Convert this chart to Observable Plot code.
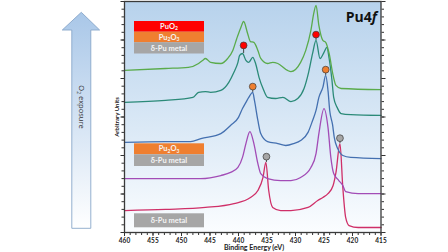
<!DOCTYPE html>
<html><head><meta charset="utf-8">
<script src="https://cdn.jsdelivr.net/npm/d3@7"></script>
<script src="https://cdn.jsdelivr.net/npm/@observablehq/plot@0.6"></script>
<style>html,body{margin:0;padding:0;background:#fff;} svg{display:block}</style>
</head><body><div id="chart"></div>
<script>
// ---- data (binding energy in eV, intensity in arbitrary units incl. stacking offset) ----
const metalE = [460,452.8,445.8,440.8,437.9,436.6,435.7,435.2,434.7,434.0,432.6,430.8,427.8,426.1,425.2,424.3,423.4,422.9,422.2,421.7,421.2,420.6,419.0,415];
const metalI = [0.57,0.60,0.65,0.75,0.91,1.09,1.43,1.82,1.09,0.65,0.57,0.57,0.65,0.83,0.91,1.01,1.22,1.56,2.31,1.17,0.39,0.18,0.13,0.13];

const mixE = [460,452.8,446.6,443.1,441.4,440.1,439.3,438.7,438.0,437.3,436.6,436.1,434.9,432.6,430.8,429.1,427.3,426.4,425.9,425.0,424.3,423.8,423.3,422.4,421.7,421.2,419.0,415];
const mixI = [1.40,1.40,1.40,1.48,1.56,1.69,1.95,2.31,2.62,2.31,1.79,1.53,1.40,1.35,1.35,1.43,1.69,2.05,2.57,3.22,2.73,1.95,1.53,1.35,1.22,1.06,1.01,1.01];

const sesqE = [460,452.8,448.4,446.6,443.1,441.4,440.0,439.3,438.7,438.2,437.5,437.2,436.6,436.1,434.9,433.1,431.7,430.3,429.1,427.8,427.0,426.4,425.9,425.2,424.7,424.3,424.0,423.5,423.2,422.6,421.7,420.3,415];
const sesqI = [2.34,2.36,2.36,2.44,2.57,2.78,2.99,3.22,3.38,3.51,3.64,3.43,2.91,2.57,2.36,2.31,2.26,2.31,2.39,2.60,2.91,3.17,3.51,3.77,4.08,3.69,3.17,2.80,2.47,2.18,2.00,1.95,1.92];

const oxE = [460,452.8,448.0,447.0,445.8,444.9,443.1,441.7,440.8,440.1,439.8,439.3,438.7,438.2,437.5,437.0,436.4,435.7,434.9,433.5,432.2,430.8,429.6,428.5,427.7,427.0,426.4,425.7,425.0,424.5,424.1,423.6,423.3,422.7,422.0,420.3,415];
const oxI = [3.38,3.43,3.51,3.64,3.66,3.64,3.69,3.90,4.16,4.42,4.60,4.65,4.47,4.42,4.55,4.39,4.03,3.74,3.51,3.48,3.51,3.40,3.48,3.74,4.16,4.65,4.99,4.52,4.68,4.81,4.52,3.95,3.51,3.25,3.09,3.06,3.04];

const topE = [460,452.8,448.8,447.0,446.3,445.8,444.9,443.1,441.9,441.0,440.3,439.6,439.1,438.4,437.9,437.3,436.6,436.1,434.9,434.0,433.1,431.4,430.8,429.1,428.2,427.3,426.8,426.4,425.9,425.2,424.7,424.1,423.4,422.9,422.0,415];
const topI = [4.21,4.26,4.29,4.39,4.47,4.52,4.42,4.39,4.52,4.73,5.04,5.32,5.48,5.17,4.96,4.94,4.73,4.52,4.39,4.42,4.39,4.21,4.18,4.42,4.73,5.25,5.69,5.90,5.38,4.99,4.94,4.65,4.08,3.82,3.74,3.71];

const seriesNames = ["spectrum 1 (clean metal)", "spectrum 2", "spectrum 3", "spectrum 4", "spectrum 5"];
const seriesE = [metalE, mixE, sesqE, oxE, topE];
const seriesI = [metalI, mixI, sesqI, oxI, topI];

// peak markers
const markerE = [435.1, 422.2, 437.5, 424.7, 439.1, 426.4];
const markerI = [1.97, 2.45, 3.79, 4.23, 4.86, 5.14];
const peakI   = [1.82, 2.31, 3.64, 4.08, 4.65, 4.99];
const markerPhase = ["δ-Pu metal", "δ-Pu metal", "Pu₂O₃", "Pu₂O₃", "PuO₂", "PuO₂"];

const xMajor = [460,455,450,445,440,435,430,425,420,415];
const xMinor = d3.range(460, 414, -1);
const yMajor = [0,1,2,3,4,5,6];
const yMinor = d3.range(0, 6.01, 0.2);

// ---- build tables ----
const rows = [];
seriesNames.forEach((name, k) => seriesE[k].forEach((e, i) => rows.push({series: name, E: e, I: seriesI[k][i]})));
const markers = markerE.map((e, i) => ({E: e, I: markerI[i], P: peakI[i], phase: markerPhase[i]}));

const colorDomain = [...seriesNames, "PuO₂", "Pu₂O₃", "δ-Pu metal"];
const colorRange = ["#cf2f68", "#a24cb6", "#4470b0", "#2b8a78", "#5aab4b", "#ff0000", "#ef7f30", "#a6a6a6"];

const svg = Plot.plot({
  width: 448, height: 252,
  marginLeft: 124, marginRight: 67.5, marginTop: 1, marginBottom: 20,
  style: {fontFamily: "Lato, 'Liberation Sans', sans-serif", fontSize: "6.5px", color: "#222", background: "transparent"},
  x: {domain: [460, 415], label: null},
  y: {domain: [0, 6], label: null},
  color: {domain: colorDomain, range: colorRange},
  marks: [
    Plot.frame({fill: "url(#bgGrad)", stroke: null}),
    Plot.axisX({ticks: xMinor, tickSize: 3, tickFormat: () => "", label: null, stroke: "#333"}),
    Plot.axisX({ticks: xMajor, tickSize: 4, tickFormat: "d", tickPadding: 1.5, label: null, fontWeight: "bold", stroke: "#333"}),
    Plot.axisY({anchor: "left", ticks: yMinor, tickSize: 2.5, tickFormat: () => "", label: null, stroke: "#333"}),
    Plot.axisY({anchor: "left", ticks: yMajor, tickSize: 3.5, tickFormat: () => "", label: null, stroke: "#333"}),
    Plot.axisY({anchor: "right", ticks: yMinor, tickSize: 2.5, tickFormat: () => "", label: null, stroke: "#333"}),
    Plot.axisY({anchor: "right", ticks: yMajor, tickSize: 4, tickFormat: () => "", label: null, stroke: "#333"}),
    Plot.line(rows, {x: "E", y: "I", z: "series", stroke: "series", strokeWidth: 1.3, curve: "monotone-x"}),
    Plot.ruleX(markers, {x: "E", y1: "P", y2: "I", stroke: "#444", strokeWidth: 1}),
    Plot.dot(markers, {x: "E", y: "I", r: 3.4, fill: "phase", stroke: "#3a3a3a", strokeWidth: 0.7}),
    Plot.frame({stroke: "#3a3a3a", strokeWidth: 1.3})
  ]
});

document.getElementById("chart").appendChild(svg);
const s = d3.select(svg);
const defs = s.insert("defs", ":first-child");
const g1 = defs.append("linearGradient").attr("id", "bgGrad").attr("x1", 0).attr("y1", 0).attr("x2", 0).attr("y2", 1);
g1.append("stop").attr("offset", "0%").attr("stop-color", "#b7d2ec");
g1.append("stop").attr("offset", "55%").attr("stop-color", "#dbe9f6");
g1.append("stop").attr("offset", "100%").attr("stop-color", "#fbfdff");
const g2 = defs.append("linearGradient").attr("id", "arrowGrad").attr("x1", 0).attr("y1", 0).attr("x2", 0).attr("y2", 1);
g2.append("stop").attr("offset", "0%").attr("stop-color", "#a9c7e8");
g2.append("stop").attr("offset", "100%").attr("stop-color", "#ffffff");

// arrow annotation
const ann = s.append("g");
ann.append("path")
  .attr("d", "M71.8,228.3 L71.8,30 L62.3,30 L81.3,12.3 L99.6,30 L90.8,30 L90.8,228.3 Z")
  .attr("fill", "url(#arrowGrad)").attr("stroke", "#89a7c9").attr("stroke-width", 0.9);
const at = ann.append("text").attr("transform", "translate(81.3,107) rotate(90)")
  .attr("text-anchor", "middle").attr("dy", "0.35em")
  .attr("font-family", "'Open Sans', sans-serif").attr("font-size", 7.5).attr("fill", "#333");
at.append("tspan").text("O");
at.append("tspan").attr("font-size", 5).attr("dy", "0.35em").text("2");
at.append("tspan").attr("dy", "-0.3em").text(" exposure");

// axis titles
ann.append("text").attr("x", 254).attr("y", 249.5).attr("text-anchor", "middle")
  .attr("font-family", "Lato, sans-serif").attr("font-weight", "bold").attr("font-size", 7).attr("fill", "#222")
  .text("Binding Energy (eV)");
ann.append("text").attr("transform", "translate(119,117) rotate(-90)").attr("text-anchor", "middle")
  .attr("font-family", "Lato, sans-serif").attr("font-weight", "bold").attr("font-size", 6).attr("fill", "#222")
  .text("Arbitrary Units");

// Pu4f label
const t = ann.append("text").attr("x", 377).attr("y", 21.5).attr("text-anchor", "end")
  .attr("font-family", "'Open Sans', sans-serif").attr("font-weight", "bold").attr("font-size", 14).attr("fill", "#111");
t.append("tspan").text("Pu4");
t.append("tspan").attr("font-style", "italic").text("f");

// legend boxes
const legend = [
  {y0: 21, y1: 31.7, fill: "#ff0000", label: [["PuO"], ["2", true]]},
  {y0: 31.7, y1: 42.3, fill: "#ef7f30", label: [["Pu"], ["2", true], ["O"], ["3", true]]},
  {y0: 42.3, y1: 53.5, fill: "#a6a6a6", label: [["δ-Pu metal"]]},
  {y0: 143.3, y1: 154.3, fill: "#ef7f30", label: [["Pu"], ["2", true], ["O"], ["3", true]]},
  {y0: 154.3, y1: 166, fill: "#a6a6a6", label: [["δ-Pu metal"]]},
  {y0: 213.3, y1: 227.3, fill: "#a6a6a6", label: [["δ-Pu metal"]]}
];
for (const b of legend) {
  ann.append("rect").attr("x", 134).attr("y", b.y0).attr("width", 70).attr("height", b.y1 - b.y0).attr("fill", b.fill);
  const tx = ann.append("text").attr("x", 169).attr("y", (b.y0 + b.y1) / 2).attr("dy", "0.35em")
    .attr("text-anchor", "middle").attr("font-family", "Lato, sans-serif").attr("font-weight", "bold")
    .attr("font-size", 7.5).attr("fill", "#f4f4f4");
  let sub = false;
  for (const [txt, isSub] of b.label) {
    const sp = tx.append("tspan").text(txt);
    if (isSub && !sub) { sp.attr("font-size", 5).attr("dy", "1.5"); sub = true; }
    else if (!isSub && sub) { sp.attr("dy", "-1.5"); sub = false; }
    else if (isSub) { sp.attr("font-size", 5); }
  }
}
</script>
</body></html>
